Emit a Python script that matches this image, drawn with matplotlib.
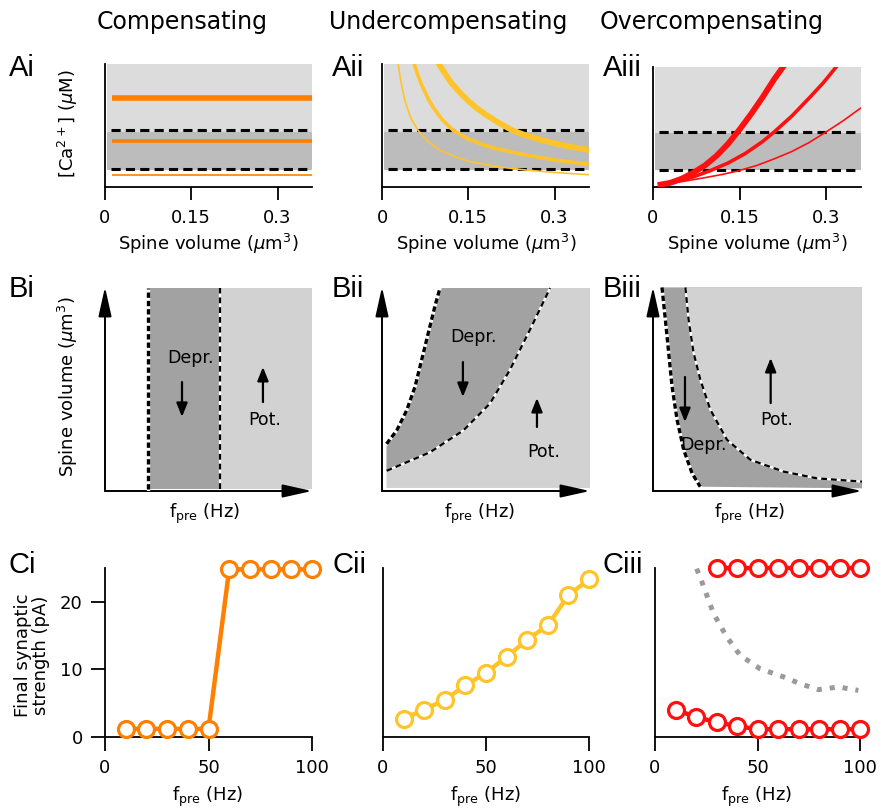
import numpy as np
import matplotlib
matplotlib.use("Agg")
import matplotlib.pyplot as plt

plt.rcParams['font.family'] = ['DejaVu Sans']
plt.rcParams['mathtext.fontset'] = 'dejavusans'

W, H = 883, 811

# ---- row A: [Ca2+] vs spine volume (y normalised 0..1)
vol_ticks = [0, 0.15, 0.3]
vol_labels = ["0", "0.15", "0.3"]
band_low, band_mid, band_top = 0.14, 0.45, 1.0
dash_levels = [0.46, 0.145]

ai_levels = [0.72, 0.372, 0.10]

aii_thin_x = [0.028, 0.034, 0.04, 0.05, 0.063, 0.08, 0.1, 0.125, 0.15, 0.2, 0.25, 0.3, 0.36]
aii_thin_y = [1.0, 0.83, 0.70, 0.56, 0.46, 0.37, 0.30, 0.25, 0.21, 0.165, 0.138, 0.118, 0.10]
aii_med_x = [0.056, 0.063, 0.07, 0.08, 0.09, 0.105, 0.124, 0.15, 0.175, 0.2, 0.25, 0.3, 0.36]
aii_med_y = [1.0, 0.90, 0.82, 0.72, 0.64, 0.545, 0.46, 0.39, 0.345, 0.31, 0.26, 0.22, 0.185]
aii_thick_x = [0.099, 0.11, 0.12, 0.135, 0.15, 0.165, 0.18, 0.2, 0.227, 0.25, 0.275, 0.3, 0.33, 0.36]
aii_thick_y = [1.0, 0.92, 0.85, 0.77, 0.70, 0.64, 0.59, 0.53, 0.46, 0.42, 0.385, 0.355, 0.325, 0.30]

aiii_thick_x = [0.013, 0.03, 0.05, 0.07, 0.09, 0.11, 0.13, 0.15, 0.17, 0.19, 0.21, 0.225]
aiii_thick_y = [0.02, 0.035, 0.07, 0.12, 0.18, 0.26, 0.36, 0.48, 0.61, 0.75, 0.9, 1.0]
aiii_med_x = [0.013, 0.04, 0.07, 0.098, 0.13, 0.16, 0.19, 0.21, 0.24, 0.27, 0.295, 0.317]
aiii_med_y = [0.02, 0.045, 0.085, 0.134, 0.2, 0.28, 0.38, 0.46, 0.59, 0.74, 0.87, 1.0]
aiii_thin_x = [0.013, 0.05, 0.09, 0.12, 0.147, 0.18, 0.21, 0.24, 0.27, 0.3, 0.33, 0.359]
aiii_thin_y = [0.02, 0.045, 0.078, 0.105, 0.134, 0.18, 0.235, 0.295, 0.37, 0.46, 0.555, 0.656]

# ---- row B: plasticity boundaries (normalised f_pre, spine volume)
bi_edges = [0.208, 0.556]
bii_left_x = [0.022, 0.071, 0.119, 0.159, 0.191, 0.223, 0.255, 0.279]
bii_left_y = [0.231, 0.297, 0.396, 0.512, 0.644, 0.776, 0.908, 0.995]
bii_right_x = [0.022, 0.231, 0.391, 0.519, 0.615, 0.712, 0.808]
bii_right_y = [0.099, 0.190, 0.297, 0.429, 0.594, 0.792, 0.995]
biii_left_x = [0.043, 0.059, 0.075, 0.091, 0.115, 0.147, 0.187, 0.226]
biii_left_y = [0.998, 0.842, 0.678, 0.514, 0.350, 0.202, 0.087, 0.021]
biii_right_x = [0.155, 0.170, 0.194, 0.226, 0.274, 0.354, 0.466, 0.625, 0.785, 1.0]
biii_right_y = [0.998, 0.842, 0.678, 0.547, 0.399, 0.251, 0.153, 0.095, 0.062, 0.046]

# ---- row C: final synaptic strength vs f_pre
f_pre = [10, 20, 30, 40, 50, 60, 70, 80, 90, 100]
ci_strength = [1.2, 1.2, 1.2, 1.2, 1.2, 24.8, 24.8, 24.8, 24.8, 24.8]
cii_strength = [2.7, 4.05, 5.5, 7.65, 9.5, 11.85, 14.4, 16.5, 21.0, 23.3]
ciii_low = [4.05, 2.95, 2.2, 1.6, 1.15, 1.15, 1.15, 1.15, 1.15, 1.15]
ciii_high_f = [30, 40, 50, 60, 70, 80, 90, 100]
ciii_high = [25.0, 25.0, 25.0, 25.0, 25.0, 25.0, 25.0, 25.0]
ciii_gray_f = [20.3, 22.8, 28.5, 35, 41.5, 51.2, 62.6, 70.7, 79.7, 89.4, 99.2]
ciii_gray = [24.9, 23.0, 18.3, 14.8, 12.1, 10.1, 8.9, 7.9, 7.0, 7.4, 6.9]

ORANGE = "#ff8000"
YELLOW = "#ffc42a"
RED = "#ff1010"
LIGHT_A, DARK_A = "#dcdcdc", "#bcbcbc"
LIGHT_B, DARK_B = "#d2d2d2", "#a2a2a2"

fig = plt.figure(figsize=(W / 100, H / 100), dpi=100)


def add_ax(left, top, right, bottom):
    return fig.add_axes([left / W, 1 - bottom / H, (right - left) / W, (bottom - top) / H])


def ftext(x, y, s, **kw):
    kw.setdefault("ha", "center")
    kw.setdefault("va", "center")
    fig.text(x / W, 1 - y / H, s, **kw)


def style_a(ax):
    ax.set_xlim(0, 0.36)
    ax.set_ylim(0, 1)
    for s in ["top", "right"]:
        ax.spines[s].set_visible(False)
    for s in ["left", "bottom"]:
        ax.spines[s].set_linewidth(1.3)
    ax.set_yticks([])
    ax.set_xticks(vol_ticks)
    ax.set_xticklabels(vol_labels)
    ax.tick_params(axis="x", length=9, width=1.3, pad=7, labelsize=13)
    ax.fill_between([0.003, 0.36], band_mid, band_top, color=LIGHT_A, lw=0, zorder=0)
    ax.fill_between([0.003, 0.36], band_low, band_mid, color=DARK_A, lw=0, zorder=0)
    for lev in dash_levels:
        ax.plot([0.01, 0.355], [lev, lev], color="k", lw=2.2, dashes=(3.0, 1.7), zorder=2)


def style_c(ax, ylabels):
    ax.set_xlim(0, 100)
    ax.set_ylim(0, 25)
    for s in ["top", "right"]:
        ax.spines[s].set_visible(False)
    for s in ["left", "bottom"]:
        ax.spines[s].set_linewidth(1.3)
    ax.set_xticks([0, 50, 100])
    ax.tick_params(axis="both", length=10, width=1.3, pad=6, labelsize=13)
    if ylabels:
        ax.set_yticks([0, 10, 20])
    else:
        ax.set_yticks([])


def b_axes(ax):
    ax.set_xlim(0, 1)
    ax.set_ylim(0, 1)
    ax.axis("off")
    arrow = dict(arrowstyle="-|>,head_length=0.9,head_width=0.2", color="k", lw=1.4,
                 mutation_scale=20, shrinkA=0, shrinkB=0)
    ax.annotate("", xy=(0, 1.0), xytext=(0, 0), arrowprops=arrow, annotation_clip=False)
    ax.annotate("", xy=(1.0, 0), xytext=(0, 0), arrowprops=arrow, annotation_clip=False)


def b_arrow(ax, x, y0, y1):
    ax.annotate("", xy=(x, y1), xytext=(x, y0),
                arrowprops=dict(arrowstyle="-|>,head_length=0.55,head_width=0.22", color="k",
                                lw=1.6, mutation_scale=15, shrinkA=0, shrinkB=0))


def bound(ax, x, y, thick):
    if thick:
        ax.plot(x, y, color="white", lw=2.4, zorder=3)
        ax.plot(x, y, color="k", lw=2.4, dashes=(1.6, 0.9), zorder=4)
    else:
        ax.plot(x, y, color="white", lw=1.6, zorder=3)
        ax.plot(x, y, color="k", lw=1.6, dashes=(2.6, 1.8), zorder=4)


# ---------------- row A
ax_ai = add_ax(105, 64, 312, 187)
style_a(ax_ai)
for lev, lw in zip(ai_levels, [4.0, 2.6, 1.2]):
    ax_ai.plot([0.012, 0.36], [lev, lev], color=ORANGE, lw=lw, solid_capstyle="butt", zorder=3)

ax_aii = add_ax(382, 64, 589, 187)
style_a(ax_aii)
ax_aii.plot(aii_thin_x, aii_thin_y, color=YELLOW, lw=1.2, zorder=3)
ax_aii.plot(aii_med_x, aii_med_y, color=YELLOW, lw=2.6, zorder=3)
ax_aii.plot(aii_thick_x, aii_thick_y, color=YELLOW, lw=4.2, zorder=3)

ax_aiii = add_ax(653, 67, 861, 187)
style_a(ax_aiii)
ax_aiii.plot(aiii_thin_x, aiii_thin_y, color=RED, lw=1.2, zorder=3)
ax_aiii.plot(aiii_med_x, aiii_med_y, color=RED, lw=2.6, zorder=3)
ax_aiii.plot(aiii_thick_x, aiii_thick_y, color=RED, lw=4.2, zorder=3)

for cx in [208, 486, 757]:
    ftext(cx, 244, "Spine volume ($\\mu$m$^3$)", fontsize=13)
ftext(68, 124, "[Ca$^{2+}$] ($\\mu$M)", fontsize=13, rotation=90)

# ---------------- row B
ax_bi = add_ax(105, 287, 312, 491)
b_axes(ax_bi)
ax_bi.fill_between([bi_edges[1], 1.0], 0.01, 0.995, color=LIGHT_B, lw=0, zorder=1)
ax_bi.fill_between(bi_edges, 0.01, 0.995, color=DARK_B, lw=0, zorder=1)
bound(ax_bi, [bi_edges[0], bi_edges[0]], [0.01, 0.995], True)
bound(ax_bi, [bi_edges[1], bi_edges[1]], [0.01, 0.995], False)
ax_bi.text(0.411, 0.652, "Depr.", fontsize=12.5, ha="center", va="center")
b_arrow(ax_bi, 0.372, 0.534, 0.363)
ax_bi.text(0.773, 0.348, "Pot.", fontsize=12.5, ha="center", va="center")
b_arrow(ax_bi, 0.763, 0.436, 0.608)

ax_bii = add_ax(382, 287, 590, 491)
b_axes(ax_bii)
light_x = [0.022, 1.0, 1.0] + bii_left_x[::-1]
light_y = [0.015, 0.015, 0.995] + bii_left_y[::-1]
ax_bii.fill(light_x, light_y, color=LIGHT_B, lw=0, zorder=1)
ax_bii.fill(bii_left_x + bii_right_x[::-1], bii_left_y + bii_right_y[::-1],
            color=DARK_B, lw=0, zorder=2)
bound(ax_bii, bii_left_x, bii_left_y, True)
bound(ax_bii, bii_right_x, bii_right_y, False)
ax_bii.text(0.4375, 0.755, "Depr.", fontsize=12.5, ha="center", va="center")
b_arrow(ax_bii, 0.389, 0.632, 0.461)
ax_bii.text(0.779, 0.191, "Pot.", fontsize=12.5, ha="center", va="center")
b_arrow(ax_bii, 0.745, 0.314, 0.456)

ax_biii = add_ax(653, 287, 862, 491)
b_axes(ax_biii)
ax_biii.fill(biii_left_x + [1.0, 1.0], biii_left_y + [0.013, 0.998], color=DARK_B, lw=0, zorder=1)
ax_biii.fill(biii_right_x + [1.0], biii_right_y + [0.998], color=LIGHT_B, lw=0, zorder=2)
bound(ax_biii, biii_left_x, biii_left_y, True)
bound(ax_biii, biii_right_x, biii_right_y, False)
b_arrow(ax_biii, 0.153, 0.559, 0.338)
ax_biii.text(0.244, 0.225, "Depr.", fontsize=12.5, ha="center", va="center")
b_arrow(ax_biii, 0.563, 0.431, 0.652)
ax_biii.text(0.593, 0.348, "Pot.", fontsize=12.5, ha="center", va="center")

for cx in [205, 480, 750]:
    ftext(cx, 514, "f$_{\\rm pre}$ (Hz)", fontsize=13)
ftext(68, 387, "Spine volume ($\\mu$m$^3$)", fontsize=13, rotation=90)

# ---------------- row C
mk = dict(marker="o", ms=11.5, mfc="white", mew=2.3, clip_on=False, zorder=3)

ax_ci = add_ax(105, 568, 312, 737)
style_c(ax_ci, True)
ax_ci.plot(f_pre, ci_strength, color=ORANGE, mec=ORANGE, lw=3.2, **mk)

ax_cii = add_ax(383, 568, 589, 737)
style_c(ax_cii, False)
ax_cii.plot(f_pre, cii_strength, color=YELLOW, mec=YELLOW, lw=3.2, **mk)

ax_ciii = add_ax(655, 568, 860, 737)
style_c(ax_ciii, False)
ax_ciii.plot(ciii_gray_f, ciii_gray, color="#9a9a9a", lw=3.6, dashes=(1.0, 1.6), zorder=2)
ax_ciii.plot(f_pre, ciii_low, color=RED, mec=RED, lw=3.2, **mk)
ax_ciii.plot(ciii_high_f, ciii_high, color=RED, mec=RED, lw=3.2, **mk)

for cx in [208, 486, 757]:
    ftext(cx, 797, "f$_{\\rm pre}$ (Hz)", fontsize=13)
ftext(32, 655, "Final synaptic\nstrength (pA)", fontsize=13, rotation=90, linespacing=1.0)

# ---------------- titles and panel labels
ftext(182, 22, "Compensating", fontsize=17)
ftext(448, 22, "Undercompensating", fontsize=17)
ftext(712, 22, "Overcompensating", fontsize=17)

lab = dict(fontsize=21, ha="left", family=["Liberation Sans"])
for x, name in [(9, "Ai"), (332, "Aii"), (603, "Aiii")]:
    ftext(x, 68, name, **lab)
for x, name in [(9, "Bi"), (332, "Bii"), (603, "Biii")]:
    ftext(x, 289, name, **lab)
for x, name in [(9, "Ci"), (332, "Cii"), (603, "Ciii")]:
    ftext(x, 565, name, **lab)

fig.savefig("out.png", dpi=100)
